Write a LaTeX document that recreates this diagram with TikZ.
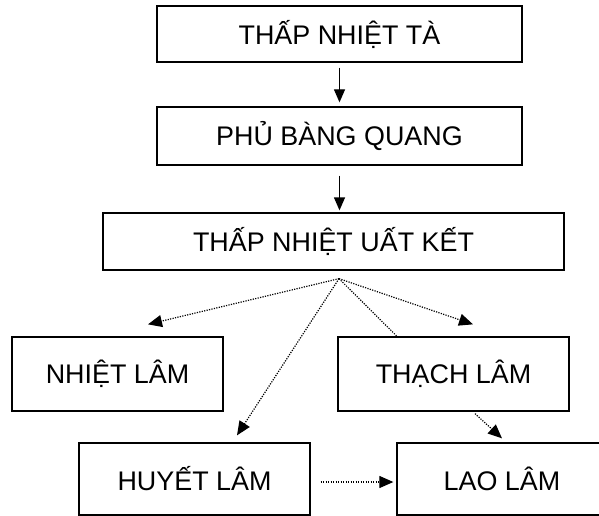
\documentclass[tikz,border=0pt]{standalone}
\usepackage{fontspec}
\setmainfont{Liberation Sans}
\usetikzlibrary{arrows.meta}

\begin{document}
\begin{tikzpicture}[x=1pt,y=1pt]
\tikzstyle{every node}+=[inner sep=0pt]
\tikzstyle{box}=[draw=black, line width=1.3pt, font=\fontsize{26.9}{32}\selectfont]
\tikzstyle{solidarrow}=[black, line width=1.3pt, -{Triangle[length=13pt,width=11pt]}]
\tikzstyle{dotarrow}=[black, line width=1.2pt, dash pattern=on 1.2pt off 1.3pt, -{Triangle[length=14pt,width=12pt]}]
\useasboundingbox (0,0) rectangle (599,-516);
\node [box, minimum width=365, minimum height=56] (tta) at (339.5,-34) {THẤP NHIỆT TÀ};
\node [box, minimum width=365, minimum height=58] (pbq) at (339.5,-136) {PHỦ BÀNG QUANG};
\node [box, minimum width=461, minimum height=57] (tnuk) at (333.5,-241.5) {THẤP NHIỆT UẤT KẾT};
\node [box, minimum width=211, minimum height=74] (nl) at (117.5,-374) {NHIỆT LÂM};
\node [box, minimum width=231, minimum height=74] (tl) at (453.5,-374) {THẠCH LÂM};
\node [box, minimum width=231, minimum height=72] (hl) at (194.5,-479) {HUYẾT LÂM};
\node [box, minimum width=210, minimum height=72] (ll) at (502,-479) {LAO LÂM};
\coordinate (fan) at ([shift={(5.5,-8)}]tnuk.south);
\draw [solidarrow, shorten <=5pt, shorten >=4pt] (tta.south) -- (pbq.north);
\draw [solidarrow, shorten <=10pt, shorten >=2pt] (pbq.south) -- (pbq.south |- tnuk.north);
\draw [dotarrow] (fan) -- ([shift={(30.5,12)}]nl.north);
\draw [dotarrow] (fan) -- ([shift={(42.5,7)}]hl.north);
\draw [dotarrow] (fan) -- ([shift={(19.5,12)}]tl.north);
\draw [dotarrow, -] (fan) -- ([xshift=-56.5]tl.north);
\draw [dotarrow] ([shift={(21.5,-2)}]tl.south) -- ([shift={(0,4)}]ll.north);
\draw [dotarrow] ([shift={(10,-3)}]hl.east) -- ([shift={(-3,-3)}]ll.west);
\end{tikzpicture}
\end{document}
